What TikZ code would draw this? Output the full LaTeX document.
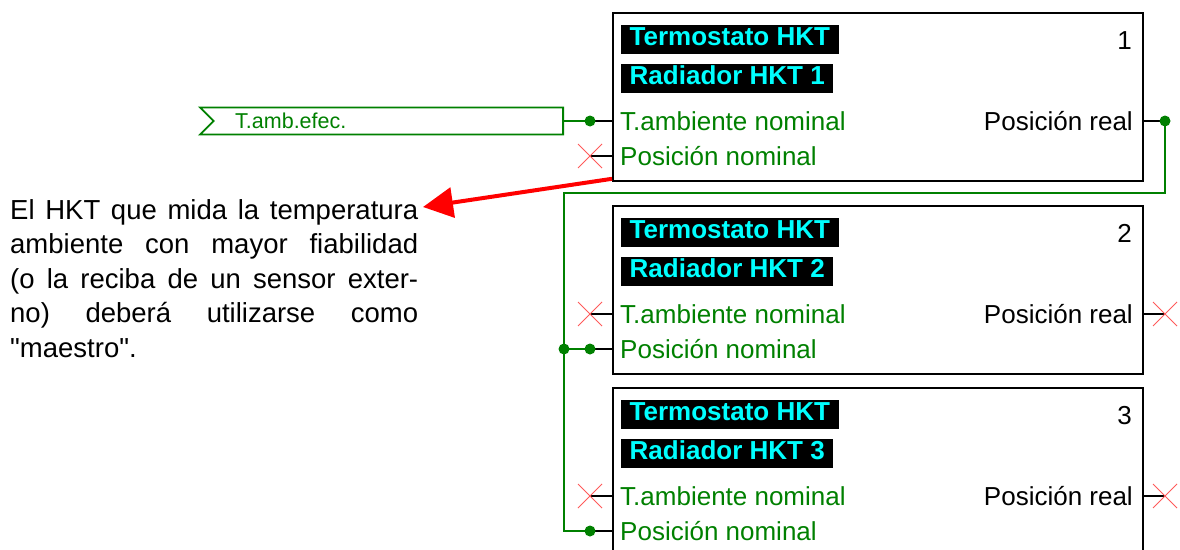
\documentclass[tikz,border=0pt]{standalone}
\usepackage{fontspec}
\setmainfont{Liberation Sans}
\newfontfamily\quotefont{Liberation Sans}
\usetikzlibrary{arrows.meta,calc,positioning,shapes.symbols}
\definecolor{wiregreen}{RGB}{0,128,0}
\definecolor{labelcyan}{RGB}{0,255,255}
\tikzset{hktbox/.style={draw, line width=1.8pt, minimum width=530pt, minimum height=168pt, anchor=north west, inner sep=0pt}}
\tikzset{hkttitle/.style={fill=black, text=labelcyan, font=\fontsize{26}{30}\selectfont\bfseries, anchor=west, inner xsep=8.5pt, inner ysep=0pt, text height=19.5pt, text depth=6pt, minimum height=29pt}}
\tikzset{pinlabel/.style={text=wiregreen, font=\fontsize{26}{31}\selectfont, anchor=base west, inner sep=0pt}}
\tikzset{outlabel/.style={font=\fontsize{26}{31}\selectfont, anchor=base east, inner sep=0pt}}
\tikzset{stub/.style={draw, line width=1.8pt}}
\tikzset{wire/.style={draw=wiregreen, line width=1.8pt}}
\tikzset{dot/.style={circle, fill=wiregreen, inner sep=0pt, minimum size=11pt}}
\tikzset{nocon/.style={draw={rgb,255:red,255;green,90;blue,90}, line width=0.8pt}}
\tikzset{hint/.style={draw=red, line width=4pt, -{Triangle[length=30pt,width=30pt]}}}

\begin{document}
\begin{tikzpicture}[x=1pt, y=-1pt]
	\useasboundingbox (0,0) rectangle (1180,549);

	\foreach \i/\top in {1/12, 2/205, 3/387} {
		\node[hktbox] (box\i) at (612,\top) {};
		\node[hkttitle] (term\i) at (621,\top+27) {Termostato HKT};
		\node[hkttitle] (rad\i) at (621,\top+66) {Radiador HKT \i};
		\node[outlabel] (num\i) at (1132,\top+37) {\i};
		\node[pinlabel] (tamb\i) at (620,\top+118) {T.ambiente nominal};
		\node[pinlabel] (posn\i) at (620,\top+153) {Posición nominal};
		\node[outlabel] (posr\i) at (1133,\top+118) {Posición real};
		\coordinate (inT\i) at (590,\top+109);
		\coordinate (inP\i) at (590,\top+144);
		\coordinate (out\i) at (1165,\top+109);
		\draw[stub] (inT\i) -- (inT\i -| box\i.west);
		\draw[stub] (inP\i) -- (inP\i -| box\i.west);
		\draw[stub] (out\i) -- (out\i -| box\i.east);
	}

	\node[signal, signal from=west, signal to=nowhere, draw=wiregreen, line width=1.8pt,
		minimum width=363pt, minimum height=27pt, inner sep=0pt, anchor=east] (src) at (564,121) {};
	\node[text=wiregreen, font=\fontsize{21.5}{26}\selectfont, anchor=west, inner sep=0pt] (srctxt) at (235,121) {T.amb.efec.};
	\draw[wire] (src.east) -- (inT1);

	\coordinate (jn) at (564,349);
	\draw[wire] (out1) -- ++(0,72) -| (jn) -- (inP2);
	\draw[wire] (jn) |- (inP3);

	\foreach \p in {inT1,out1,inP2,inP3,jn}
		\node[dot] (dot-\p) at (\p) {};
	\foreach \p in {inP1,inT2,out2,inT3,out3}
		\draw[nocon] (\p) +(-12,-12) -- +(12,12) +(-12,12) -- +(12,-12);

	\node[anchor=north west, text width=408pt, align=justify, inner sep=0pt,
		font=\fontsize{27.5}{34.5}\selectfont] (note) at (10,199)
		{\hyphenpenalty=10000 El HKT que mida la temperatura\linebreak
		ambiente con mayor fiabilidad\linebreak
		(o la reciba de un sensor exter-\linebreak
		no) deberá utilizarse como\linebreak
		{\quotefont"}maestro{\quotefont"}.};

	\coordinate (tip) at (423,207);
	\draw[hint] ($(box1.south west)+(0,-3)$) -- (tip);
\end{tikzpicture}
\end{document}
